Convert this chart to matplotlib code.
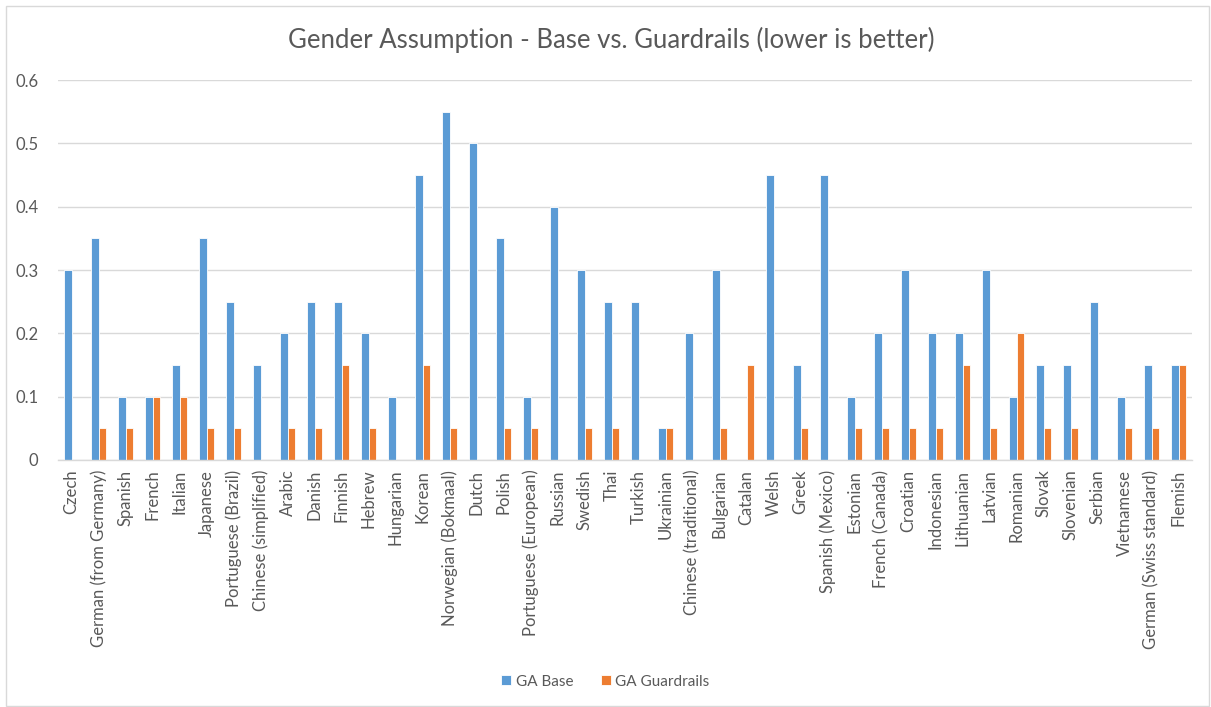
import matplotlib
matplotlib.use("Agg")
import matplotlib.pyplot as plt
import numpy as np

languages = [
    "Czech", "German (from Germany)", "Spanish", "French", "Italian", "Japanese",
    "Portuguese (Brazil)", "Chinese (simplified)", "Arabic", "Danish", "Finnish",
    "Hebrew", "Hungarian", "Korean", "Norwegian (Bokmaal)", "Dutch", "Polish",
    "Portuguese (European)", "Russian", "Swedish", "Thai", "Turkish", "Ukrainian",
    "Chinese (traditional)", "Bulgarian", "Catalan", "Welsh", "Greek",
    "Spanish (Mexico)", "Estonian", "French (Canada)", "Croatian", "Indonesian",
    "Lithuanian", "Latvian", "Romanian", "Slovak", "Slovenian", "Serbian",
    "Vietnamese", "German (Swiss standard)", "Flemish",
]
ga_base = [
    0.30, 0.35, 0.10, 0.10, 0.15, 0.35, 0.25, 0.15, 0.20, 0.25, 0.25, 0.20,
    0.10, 0.45, 0.55, 0.50, 0.35, 0.10, 0.40, 0.30, 0.25, 0.25, 0.05, 0.20,
    0.30, 0.00, 0.45, 0.15, 0.45, 0.10, 0.20, 0.30, 0.20, 0.20, 0.30, 0.10,
    0.15, 0.15, 0.25, 0.10, 0.15, 0.15,
]
ga_guardrails = [
    0.00, 0.05, 0.05, 0.10, 0.10, 0.05, 0.05, 0.00, 0.05, 0.05, 0.15, 0.05,
    0.00, 0.15, 0.05, 0.00, 0.05, 0.05, 0.00, 0.05, 0.05, 0.00, 0.05, 0.00,
    0.05, 0.15, 0.00, 0.05, 0.00, 0.05, 0.05, 0.05, 0.05, 0.15, 0.05, 0.20,
    0.05, 0.05, 0.00, 0.05, 0.05, 0.15,
]
y_ticks = [0, 0.1, 0.2, 0.3, 0.4, 0.5, 0.6]
y_tick_labels = ["0", "0.1", "0.2", "0.3", "0.4", "0.5", "0.6"]

plt.rcParams["font.family"] = ["Lato", "DejaVu Sans"]
text_color = "#595959"
blue = "#5B9BD5"
orange = "#ED7D31"

fig = plt.figure(figsize=(12.11, 7.07), dpi=100)
ax = fig.add_axes([0.0479, 0.3494, 0.9365, 0.5374])

x = np.arange(len(languages))
w = 0.27
ax.bar(x - w / 2, ga_base, width=w, color=blue, edgecolor="white",
       linewidth=0.6, label="GA Base", zorder=3)
ax.bar(x + w / 2, ga_guardrails, width=w, color=orange, edgecolor="white",
       linewidth=0.6, label="GA Guardrails", zorder=3)

ax.set_xlim(-0.5, len(languages) - 0.5)
ax.set_ylim(0, 0.6)
ax.set_yticks(y_ticks)
ax.set_yticklabels(y_tick_labels, fontsize=12, color=text_color)
ax.set_xticks(x)
ax.set_xticklabels(languages, rotation=90, fontsize=12, color=text_color)
ax.tick_params(axis="both", length=0)
ax.tick_params(axis="x", pad=7)
ax.tick_params(axis="y", pad=14)

ax.grid(axis="y", color="#D9D9D9", linewidth=1, zorder=0)
for side in ("top", "right", "left"):
    ax.spines[side].set_visible(False)
ax.spines["bottom"].set_color("#D9D9D9")
ax.spines["bottom"].set_linewidth(1)
ax.spines["bottom"].set_zorder(4)

fig.text(0.505, 0.943, "Gender Assumption - Base vs. Guardrails (lower is better)",
         ha="center", va="center", fontsize=18.5, color=text_color)

fig.legend(loc="center", bbox_to_anchor=(0.5, 0.036), ncol=2, frameon=False,
           fontsize=11, labelcolor=text_color, handlelength=0.65, handleheight=0.65,
           handletextpad=0.3, columnspacing=1.8)

border = plt.Rectangle((0.005, 0.002), 0.993, 0.989, transform=fig.transFigure,
                       fill=False, edgecolor="#D9D9D9", linewidth=1)
fig.patches.append(border)

fig.savefig("out.png", dpi=100, facecolor="white")
